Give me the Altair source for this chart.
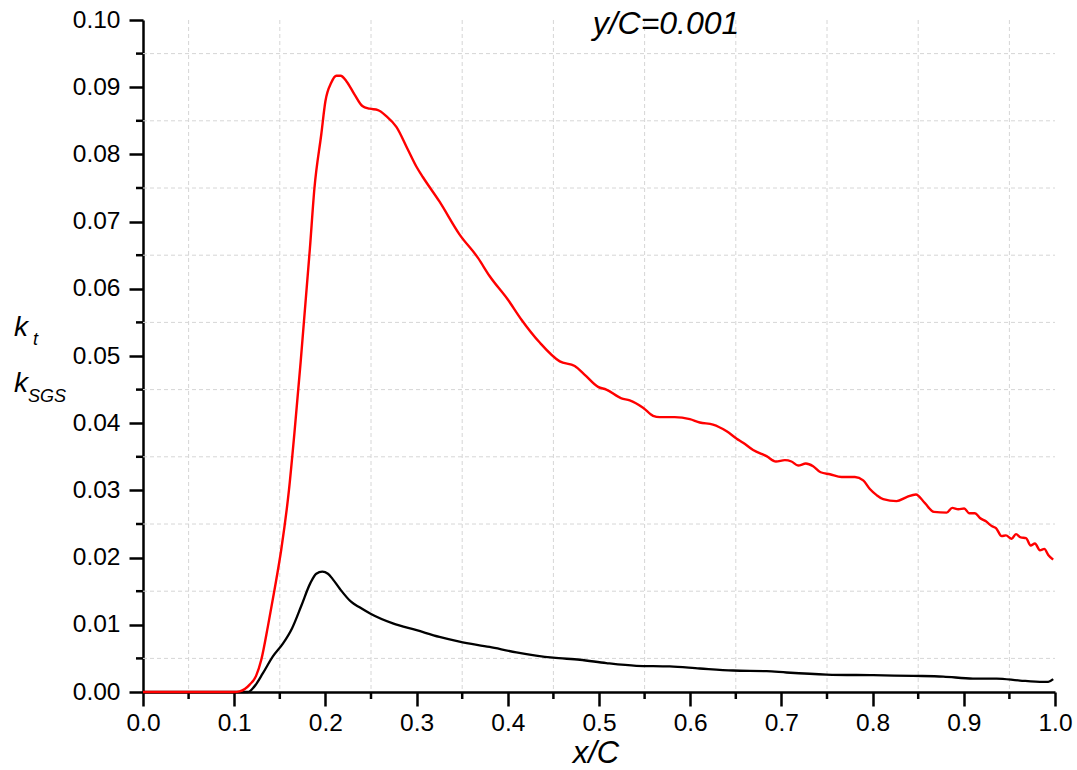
import altair as alt
import pandas as pd

# ---- data ----
red_x = [0.0, 0.05, 0.100, 0.106, 0.117, 0.124, 0.1297, 0.137, 0.1443, 0.1516, 0.160, 0.166,
         0.1728, 0.183, 0.188, 0.1955, 0.200, 0.2065, 0.212, 0.2167, 0.223, 0.232, 0.2405,
         0.2485, 0.2576, 0.2668, 0.2778, 0.2905, 0.2997, 0.307, 0.325, 0.347, 0.3673, 0.380,
         0.400, 0.415, 0.435, 0.457, 0.4734, 0.4844, 0.499, 0.508, 0.5246, 0.5337, 0.5483,
         0.5593, 0.5667, 0.583, 0.5996, 0.6105, 0.625, 0.640, 0.651, 0.658, 0.669, 0.6837,
         0.694, 0.7038, 0.711, 0.7184, 0.7268, 0.7348, 0.743, 0.7532, 0.766, 0.7806, 0.7897,
         0.797, 0.8044, 0.8116, 0.8263, 0.8373, 0.8475, 0.8574, 0.8672, 0.8812, 0.8873, 0.894,
         0.9005, 0.906, 0.9122, 0.9177, 0.9243, 0.9306, 0.9353, 0.9415, 0.9462, 0.9525, 0.9572,
         0.9624, 0.9682, 0.9733, 0.978, 0.9835, 0.9883, 0.9926, 0.998]
red_y = [0.0, 0.0, 0.0, 0.0001, 0.0011, 0.0024, 0.0048, 0.0098, 0.0153, 0.0212, 0.0300, 0.0385,
         0.0490, 0.0660, 0.0750, 0.0830, 0.0879, 0.0907, 0.0917, 0.0917, 0.0909, 0.0889, 0.0872,
         0.0868, 0.0866, 0.0857, 0.0841, 0.0807, 0.0782, 0.0766, 0.0730, 0.0681, 0.0646, 0.0619,
         0.0584, 0.0554, 0.0520, 0.0492, 0.0485, 0.0472, 0.0454, 0.0450, 0.0437, 0.0434, 0.0423,
         0.0411, 0.0409, 0.0409, 0.0406, 0.0401, 0.0398, 0.0388, 0.0377, 0.0371, 0.0360, 0.0351,
         0.0343, 0.0345, 0.0343, 0.0337, 0.0340, 0.0336, 0.0327, 0.0324, 0.0320, 0.0320, 0.0315,
         0.0302, 0.0293, 0.0287, 0.0284, 0.0290, 0.0294, 0.0281, 0.0268, 0.0267, 0.0274, 0.0272,
         0.0273, 0.0266, 0.0266, 0.0259, 0.0254, 0.0247, 0.0244, 0.0232, 0.0233, 0.0228, 0.0235,
         0.0230, 0.0229, 0.0218, 0.0221, 0.0211, 0.0213, 0.0204, 0.0197]

black_x = [0.0, 0.05, 0.100, 0.115, 0.122, 0.1315, 0.1424, 0.1534, 0.1635, 0.1735, 0.1835, 0.190,
           0.1966, 0.2028, 0.2080, 0.2156, 0.2284, 0.2375, 0.2500, 0.274, 0.300, 0.325, 0.347,
           0.380, 0.4094, 0.4496, 0.479, 0.508, 0.541, 0.5776, 0.6105, 0.647, 0.6837, 0.7056,
           0.7495, 0.8007, 0.8445, 0.8775, 0.910, 0.936, 0.9616, 0.987, 0.9926, 0.998]
black_y = [0.0, 0.0, 0.0, 0.0, 0.0008, 0.0028, 0.0053, 0.0072, 0.0095, 0.0128, 0.0162, 0.0176,
           0.0179, 0.0176, 0.0168, 0.0154, 0.0134, 0.0126, 0.0116, 0.0102, 0.0092, 0.0082, 0.0075,
           0.0067, 0.0059, 0.0051, 0.0048, 0.0043, 0.0039, 0.0038, 0.0035, 0.0032, 0.0031, 0.0029,
           0.0026, 0.0025, 0.0024, 0.0023, 0.0020, 0.0020, 0.0017, 0.0015, 0.0015, 0.0019]

x_major = [round(i * 0.1, 1) for i in range(11)]
x_minor = [round(0.05 + i * 0.1, 2) for i in range(10)]
y_major = [round(i * 0.01, 2) for i in range(11)]
y_minor = [round(0.005 + i * 0.01, 3) for i in range(10)]

W, H = 912, 672
FONT = "Liberation Sans"

red_df = pd.DataFrame({"x": red_x, "y": red_y})
black_df = pd.DataFrame({"x": black_x, "y": black_y})
xminor_df = pd.DataFrame({"x": x_minor})
yminor_df = pd.DataFrame({"y": y_minor})

xs = alt.Scale(domain=[0, 1], nice=False, zero=False)
ys = alt.Scale(domain=[0, 0.1], nice=False, zero=False)

grid_style = dict(color="#d6d6d6", strokeDash=[4, 3], strokeWidth=1)

vgrid = alt.Chart(xminor_df).mark_rule(**grid_style).encode(
    x=alt.X("x:Q", scale=xs,
            axis=alt.Axis(values=x_major, format=".1f", title=None, grid=False,
                          tickSize=14, tickWidth=2.5, domainWidth=2.5, domainColor="black",
                          tickColor="black", labelFont=FONT, labelFontSize=24.5,
                          labelColor="black", labelPadding=5, labelFlush=False)),
    y=alt.value(0), y2=alt.value(H))

hgrid = alt.Chart(yminor_df).mark_rule(**grid_style).encode(
    y=alt.Y("y:Q", scale=ys,
            axis=alt.Axis(values=y_major, format=".2f", title=None, grid=False,
                          tickSize=14, tickWidth=2.5, domainWidth=2.5, domainColor="black",
                          tickColor="black", labelFont=FONT, labelFontSize=24.5,
                          labelColor="black", labelPadding=9, labelFlush=False)),
    x=alt.value(0), x2=alt.value(W))

xminor_ticks = alt.Chart(xminor_df).mark_rule(color="black", strokeWidth=2.5).encode(
    x=alt.X("x:Q", scale=xs), y=alt.value(H), y2=alt.value(H + 7))
yminor_ticks = alt.Chart(yminor_df).mark_rule(color="black", strokeWidth=2.5).encode(
    y=alt.Y("y:Q", scale=ys), x=alt.value(-7), x2=alt.value(0))

black_line = alt.Chart(black_df).mark_line(color="black", strokeWidth=2.3,
                                           interpolate="monotone").encode(
    x=alt.X("x:Q", scale=xs), y=alt.Y("y:Q", scale=ys))
red_line = alt.Chart(red_df).mark_line(color="#ff0000", strokeWidth=2.4,
                                       interpolate="monotone").encode(
    x=alt.X("x:Q", scale=xs), y=alt.Y("y:Q", scale=ys))


def label(text, x, y, size, align="left", baseline="alphabetic"):
    return alt.Chart(pd.DataFrame({"t": [text]})).mark_text(
        font=FONT, fontSize=size, fontStyle="italic", color="black",
        align=align, baseline=baseline).encode(
        text="t:N", x=alt.value(x), y=alt.value(y))


texts = [
    label("y/C=0.001", 523, 14, 32, align="center"),
    label("x/C", 453, 743, 31, align="center"),
    label("k", -129, 316, 28),
    label("t", -110, 325, 18),
    label("k", -129, 372, 28),
    label("SGS", -115, 382, 18),
]

chart = alt.layer(vgrid, hgrid, xminor_ticks, yminor_ticks, black_line, red_line,
                  *texts).properties(
    width=W, height=H,
    autosize=alt.AutoSizeParams(type="none"),
    padding={"left": 143, "top": 20, "right": 22, "bottom": 78},
    background="white",
).configure_view(stroke=None)

chart.save("out.html", embed_options={"renderer": "svg", "actions": False})
